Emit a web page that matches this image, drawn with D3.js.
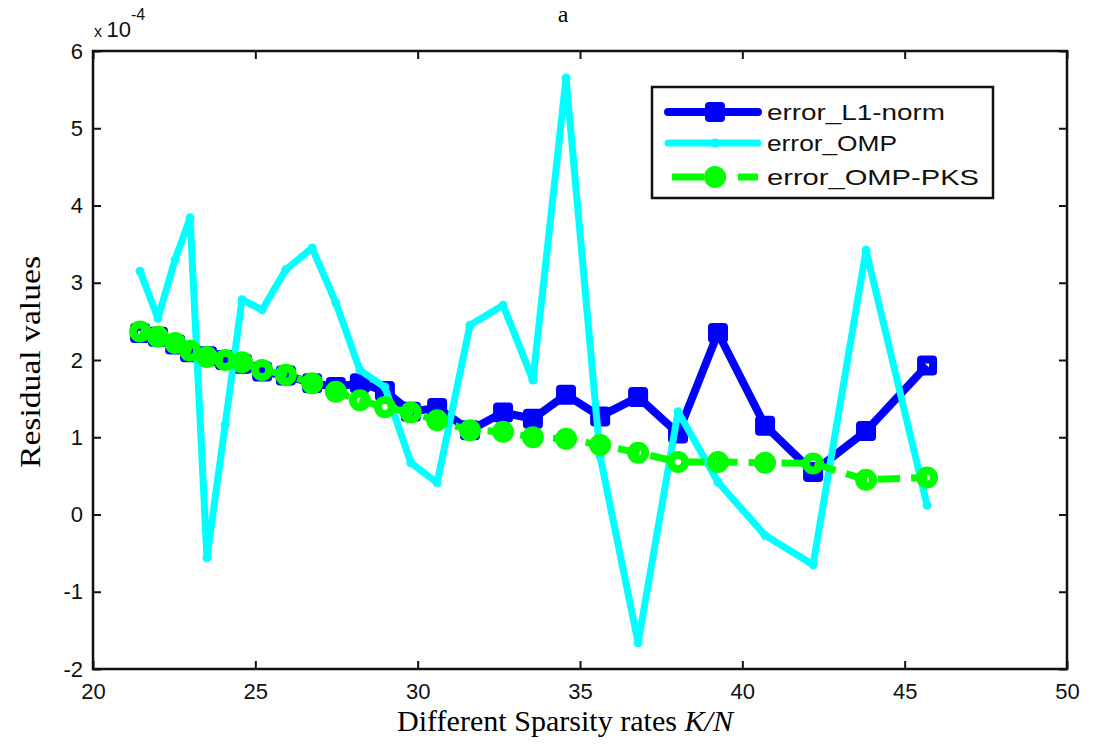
<!DOCTYPE html>
<html>
<head>
<meta charset="utf-8">
<script src="https://cdn.jsdelivr.net/npm/d3@7/dist/d3.min.js"></script>
<style>
  body { margin: 0; background: #fff; }
  svg { display: block; }
</style>
</head>
<body>
<svg id="chart" width="1096" height="753"></svg>
<script>
// sparsity rates K/N (shared by all three series)
const sparsity = [21.45, 22.00, 22.53, 22.99, 23.51, 24.07, 24.59, 25.21, 25.94, 26.75,
                  27.48, 28.22, 28.99, 29.79, 30.60, 31.61, 32.63, 33.55, 34.57, 35.62,
                  36.79, 38.02, 39.25, 40.70, 42.18, 43.81, 45.69];

// residual values, in units of 1e-4
const errL1 = [2.35, 2.30, 2.20, 2.10, 2.05, 2.00, 1.95, 1.85, 1.80, 1.70,
               1.65, 1.70, 1.60, 1.33, 1.38, 1.09, 1.32, 1.24, 1.55, 1.27,
               1.52, 1.05, 2.35, 1.15, 0.55, 1.08, 1.93];
const errOMP = [3.15, 2.54, 3.30, 3.84, -0.56, 1.16, 2.78, 2.65, 3.17, 3.45,
                2.74, 1.87, 1.65, 0.67, 0.41, 2.45, 2.71, 1.74, 5.65, 0.75,
                -1.66, 1.33, 0.42, -0.27, -0.65, 3.42, 0.12];
const errPKS = [2.37, 2.30, 2.22, 2.12, 2.04, 2.00, 1.97, 1.87, 1.81, 1.70,
                1.59, 1.48, 1.39, 1.32, 1.22, 1.09, 1.07, 1.00, 0.98, 0.90,
                0.80, 0.68, 0.68, 0.67, 0.66, 0.45, 0.48];

const xTicks = [20, 25, 30, 35, 40, 45, 50];
const yTicks = [-2, -1, 0, 1, 2, 3, 4, 5, 6];
const seriesNames = ["error_L1-norm", "error_OMP", "error_OMP-PKS"];

const margin = { top: 51, right: 29, bottom: 84, left: 93 };
const width = 1096, height = 753;

const svg = d3.select("#chart");

const x = d3.scaleLinear().domain([20, 50]).range([margin.left, width - margin.right]);
const y = d3.scaleLinear().domain([-2, 6]).range([height - margin.bottom, margin.top]);

const tickFont = "'Liberation Sans', Arial, sans-serif";
const serif = "'Liberation Serif', 'Times New Roman', serif";
// matlab style labels use a plain hyphen for negatives
const plainFmt = (d) => String(d);

// series lines
const line = (vals) => d3.line()
    .x((d, i) => x(sparsity[i]))
    .y((d) => y(d))(vals);

const plot = svg.append("g");

// L1-norm: blue, square markers
plot.append("path")
    .attr("d", line(errL1))
    .attr("fill", "none")
    .attr("stroke", "#0000ff")
    .attr("stroke-width", 8)
    .attr("stroke-linejoin", "round");
plot.append("g").selectAll("rect")
    .data(errL1)
    .join("rect")
    .attr("x", (d, i) => x(sparsity[i]) - 6)
    .attr("y", (d) => y(d) - 6)
    .attr("width", 12)
    .attr("height", 12)
    .attr("fill", "none")
    .attr("stroke", "#0000ff")
    .attr("stroke-width", 8)
    .attr("stroke-linejoin", "round");

// OMP: cyan, point markers
plot.append("path")
    .attr("d", line(errOMP))
    .attr("fill", "none")
    .attr("stroke", "#00ffff")
    .attr("stroke-width", 7)
    .attr("stroke-linejoin", "round")
    .attr("stroke-linecap", "round");
plot.append("g").selectAll("circle")
    .data(errOMP)
    .join("circle")
    .attr("cx", (d, i) => x(sparsity[i]))
    .attr("cy", (d) => y(d))
    .attr("r", 4.5)
    .attr("fill", "#00ffff");

// OMP-PKS: green dashed, circle markers
plot.append("path")
    .attr("d", line(errPKS))
    .attr("fill", "none")
    .attr("stroke", "#00ff00")
    .attr("stroke-width", 7)
    .attr("stroke-dasharray", "22,11");
plot.append("g").selectAll("circle")
    .data(errPKS)
    .join("circle")
    .attr("cx", (d, i) => x(sparsity[i]))
    .attr("cy", (d) => y(d))
    .attr("r", 7)
    .attr("fill", "none")
    .attr("stroke", "#00ff00")
    .attr("stroke-width", 8);

// axes box with inward ticks on all sides
const tickLen = 8;
svg.append("g")
    .attr("transform", `translate(0,${y(-2)})`)
    .call(d3.axisBottom(x).tickValues(xTicks).tickSize(-tickLen).tickPadding(14).tickFormat(plainFmt))
    .call((g) => g.select(".domain").remove())
    .call((g) => g.selectAll(".tick line").attr("stroke", "#111").attr("stroke-width", 2))
    .call((g) => g.selectAll("text").attr("font-family", tickFont).attr("font-size", 22).attr("fill", "#111"));

svg.append("g")
    .attr("transform", `translate(0,${y(6)})`)
    .call(d3.axisTop(x).tickValues(xTicks).tickSize(-tickLen).tickFormat(""))
    .call((g) => g.select(".domain").remove())
    .call((g) => g.selectAll(".tick line").attr("stroke", "#111").attr("stroke-width", 2));

svg.append("g")
    .attr("transform", `translate(${x(20)},0)`)
    .call(d3.axisLeft(y).tickValues(yTicks).tickSize(-tickLen).tickPadding(10).tickFormat(plainFmt))
    .call((g) => g.select(".domain").remove())
    .call((g) => g.selectAll(".tick line").attr("stroke", "#111").attr("stroke-width", 2))
    .call((g) => g.selectAll("text").attr("font-family", tickFont).attr("font-size", 22).attr("fill", "#111"));

svg.append("g")
    .attr("transform", `translate(${x(50)},0)`)
    .call(d3.axisRight(y).tickValues(yTicks).tickSize(-tickLen).tickFormat(""))
    .call((g) => g.select(".domain").remove())
    .call((g) => g.selectAll(".tick line").attr("stroke", "#111").attr("stroke-width", 2));

svg.append("rect")
    .attr("x", x(20))
    .attr("y", y(6))
    .attr("width", x(50) - x(20))
    .attr("height", y(-2) - y(6))
    .attr("fill", "none")
    .attr("stroke", "#111")
    .attr("stroke-width", 2.5);

// exponent label
const expo = svg.append("text")
    .attr("x", 94)
    .attr("y", 37)
    .attr("font-family", tickFont)
    .attr("fill", "#111");
expo.append("tspan").attr("font-size", 16).text("x ");
expo.append("tspan").attr("font-size", 22).text("10");
expo.append("tspan").attr("font-size", 16).attr("dy", -17).text("-4");

// title and axis labels
svg.append("text")
    .attr("x", 563)
    .attr("y", 22)
    .attr("text-anchor", "middle")
    .attr("font-family", serif)
    .attr("font-size", 24)
    .text("a");

const xl = svg.append("text")
    .attr("x", 565)
    .attr("y", 731)
    .attr("text-anchor", "middle")
    .attr("font-family", serif)
    .attr("font-size", 30)
    .attr("textLength", 336)
    .attr("lengthAdjust", "spacingAndGlyphs");
xl.append("tspan").text("Different Sparsity rates ");
xl.append("tspan").attr("font-style", "italic").text("K/N");

svg.append("text")
    .attr("transform", "translate(40,362) rotate(-90)")
    .attr("text-anchor", "middle")
    .attr("font-family", serif)
    .attr("font-size", 30)
    .attr("textLength", 212)
    .attr("lengthAdjust", "spacingAndGlyphs")
    .text("Residual values");

// legend
const legend = svg.append("g");
legend.append("rect")
    .attr("x", 652)
    .attr("y", 87)
    .attr("width", 341)
    .attr("height", 111)
    .attr("fill", "#fff")
    .attr("stroke", "#111")
    .attr("stroke-width", 2.5);

const rowY = [112, 143, 177];
const textLen = [178, 130, 212];

// blue entry
legend.append("line")
    .attr("x1", 668).attr("x2", 758).attr("y1", rowY[0]).attr("y2", rowY[0])
    .attr("stroke", "#0000ff").attr("stroke-width", 8).attr("stroke-linecap", "round");
legend.append("rect")
    .attr("x", 709).attr("y", rowY[0] - 6).attr("width", 12).attr("height", 12)
    .attr("fill", "#0000ff").attr("stroke", "#0000ff").attr("stroke-width", 8)
    .attr("stroke-linejoin", "round");

// cyan entry
legend.append("line")
    .attr("x1", 668).attr("x2", 758).attr("y1", rowY[1]).attr("y2", rowY[1])
    .attr("stroke", "#00ffff").attr("stroke-width", 7).attr("stroke-linecap", "round");
legend.append("circle")
    .attr("cx", 715).attr("cy", rowY[1]).attr("r", 4.5).attr("fill", "#00ffff");

// green entry
legend.append("line")
    .attr("x1", 672).attr("x2", 758).attr("y1", rowY[2]).attr("y2", rowY[2])
    .attr("stroke", "#00ff00").attr("stroke-width", 7).attr("stroke-dasharray", "32,12,10,12,22");
legend.append("circle")
    .attr("cx", 715).attr("cy", rowY[2]).attr("r", 7)
    .attr("fill", "#00ff00").attr("stroke", "#00ff00").attr("stroke-width", 8);

legend.selectAll("text.lbl")
    .data(seriesNames)
    .join("text")
    .attr("class", "lbl")
    .attr("x", 767)
    .attr("y", (d, i) => rowY[i] + 8)
    .attr("font-family", tickFont)
    .attr("font-size", 22)
    .attr("fill", "#111")
    .attr("textLength", (d, i) => textLen[i])
    .attr("lengthAdjust", "spacingAndGlyphs")
    .text((d) => d);
</script>
</body>
</html>
